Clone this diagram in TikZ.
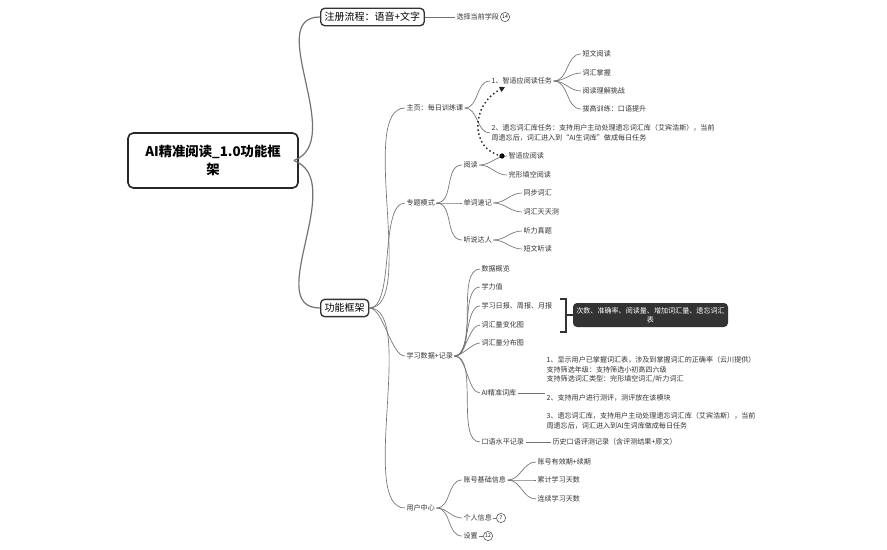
\documentclass[tikz,border=0pt]{standalone}
\usepackage{fontspec}
\setmainfont{Noto Sans CJK SC}
\usetikzlibrary{arrows.meta}
\begin{document}
\begin{tikzpicture}[x=0.75pt,y=-0.75pt,
  t/.style={anchor=west,inner sep=1pt,font=\fontsize{5.3}{7}\selectfont,text=black!80},
  c/.style={draw=black!55,line width=0.5pt},
  b/.style={draw=black!80,line width=1pt,rounded corners=3pt,inner sep=3pt,font=\fontsize{7.5}{9}\selectfont},
  num/.style={circle,draw=black!70,inner sep=0.3pt,font=\fontsize{3.8}{4}\selectfont,minimum size=7pt}]
\useasboundingbox (0,0) rectangle (887,549);
% root
\node[draw=black!85,line width=1.2pt,rounded corners=4pt,minimum width=170*0.75pt,minimum height=55*0.75pt,align=center,font=\fontsize{10}{13}\bfseries\selectfont] (root) at (213,160.5) {AI精准阅读\_1.0功能框\\架};
\node[b,anchor=west] (reg) at (320,17) {注册流程：语音+文字};
\node[b,anchor=west] (fw) at (320,308) {功能框架};
\draw[c,line width=0.9pt] (root.east) ++(-5,0) to[out=20,in=180] (reg.west);
\draw[c,line width=0.9pt] (root.east) ++(-5,0) to[out=-20,in=180] (fw.west);
\node[t] (grade) at (455,17) {选择当前学段};
\node[num] (n14) at (505,17) {14};
\draw[c] (reg.east) -- (grade.west);
\draw[c] (grade.east) -- (n14.west);
% level 2
\node[t] (home) at (405,108) {主页：每日训练课};
\node[t] (topic) at (405,203) {专题模式};
\node[t] (data) at (405,356) {学习数据+记录};
\node[t] (user) at (405,508) {用户中心};
\foreach \n in {home,topic,data,user}
  \draw[c] (fw.east) to[out=0,in=180,looseness=0.6] (\n.west);
% home
\node[t] (h1) at (490,81) {1、智适应阅读任务};
\node[t,align=left] (h2) at (490,133) {2、遗忘词汇库任务：支持用户主动处理遗忘词汇库（艾宾浩斯），当前\\周遗忘后，词汇进入到“AI生词库”做成每日任务};
\draw[c] (home.east) to[out=0,in=180] (h1.west);
\draw[c] (home.east) to[out=0,in=180] (h2.west);
\foreach \s/\y/\name in {短文阅读/54/a1,词汇掌握/73/a2,阅读理解挑战/91/a3,拔高训练：口语提升/109/a4}{
  \node[t] (\name) at (581,\y) {\s};
  \draw[c] (h1.east) to[out=0,in=180] (\name.west);}
% topic
\node[t] (read) at (462,165) {阅读};
\node[t] (word) at (462,203) {单词速记};
\node[t] (listen) at (462,240) {听说达人};
\foreach \n in {read,word,listen} \draw[c] (topic.east) to[out=0,in=180] (\n.west);
\node[t] (r1) at (507,156) {智适应阅读};
\node[t] (r2) at (507,175) {完形填空阅读};
\foreach \n in {r1,r2} \draw[c] (read.east) to[out=0,in=180] (\n.west);
\node[t] (w1) at (522,193) {同步词汇};
\node[t] (w2) at (522,212) {词汇天天测};
\foreach \n in {w1,w2} \draw[c] (word.east) to[out=0,in=180] (\n.west);
\node[t] (l1) at (522,231) {听力真题};
\node[t] (l2) at (522,249) {短文听读};
\foreach \n in {l1,l2} \draw[c] (listen.east) to[out=0,in=180] (\n.west);
\fill (502,156) coordinate (dot) circle (2.6);
\coordinate (arr) at (505,87);
\draw[black!85,line width=1.1pt,dotted,-{Triangle[width=4pt,length=4pt]}] (dot) .. controls (470,150) and (470,105) .. (arr);
% data
\foreach \s/\y/\name in {数据概览/269/d1,学力值/287/d2,学习日报、周报、月报/306/d3,词汇量变化图/325/d4,词汇量分布图/343/d5,AI精准词库/393/d6,口语水平记录/442/d7}{
  \node[t] (\name) at (480,\y) {\s};
  \draw[c] (data.east) to[out=0,in=180,looseness=0.7] (\name.west);}
\draw[black!80,line width=0.8pt] (560,299) -- (566,299) -- (566,332) -- (560,332);
\node[fill=black!80,rounded corners=3pt,text=white,align=center,minimum width=155*0.75pt,minimum height=24*0.75pt,inner sep=1pt,font=\fontsize{5.3}{7}\selectfont] (sum) at (650.5,315) {次数、准确率、阅读量、增加词汇量、遗忘词汇\\表};
\draw[black!80,line width=0.8pt] (566,315) -- (sum.west);
\node[t,align=left] (ai) at (545,393) {1、显示用户已掌握词汇表，涉及到掌握词汇的正确率（云川提供）\\支持筛选年级：支持筛选小初高四六级\\支持筛选词汇类型：完形填空词汇/听力词汇\\[7pt]2、支持用户进行测评，测评放在该模块\\[7pt]3、遗忘词汇库，支持用户主动处理遗忘词汇库（艾宾浩斯），当前\\周遗忘后，词汇进入到AI生词库做成每日任务};
\draw[c] (d6.east) -- (ai.west);
\node[t] (oral) at (551,442) {历史口语评测记录（含评测结果+原文）};
\draw[c] (d7.east) -- (oral.west);
% user
\node[t] (acc) at (462,480) {账号基础信息};
\node[t] (info) at (462,518) {个人信息};
\node[t] (set) at (462,536) {设置};
\foreach \n in {acc,info,set} \draw[c] (user.east) to[out=0,in=180] (\n.west);
\node[num] (n7) at (501,518) {7};
\node[num] (n12) at (488,536) {12};
\draw[c] (info.east) -- (n7.west);
\draw[c] (set.east) -- (n12.west);
\foreach \s/\y/\name in {账号有效期+续期/462/u1,累计学习天数/480/u2,连续学习天数/499/u3}{
  \node[t] (\name) at (536,\y) {\s};
  \draw[c] (acc.east) to[out=0,in=180] (\name.west);}
\end{tikzpicture}
\end{document}
